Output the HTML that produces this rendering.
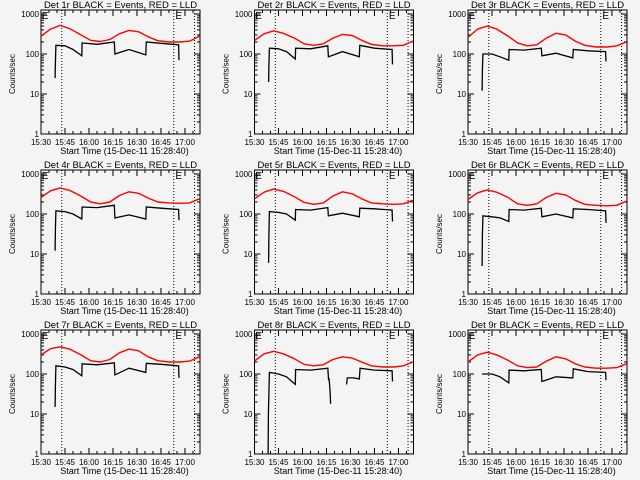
<!DOCTYPE html>
<html><head><meta charset="utf-8"><style>
html,body{margin:0;padding:0;background:#f4f4f4}
svg{display:block}
text{font-family:"Liberation Sans",sans-serif;fill:#000}
</style></head><body>
<svg id="c" width="640" height="480" viewBox="0 0 640 480" xmlns="http://www.w3.org/2000/svg"></svg>
<script>
const panelTitles=["Det 1r","Det 2r","Det 3r","Det 4r","Det 5r","Det 6r","Det 7r","Det 8r","Det 9r"];
const xTickLabels=["15:30","15:45","16:00","16:15","16:30","16:45","17:00"];
const xTickMinutes=[0,15,30,45,60,75,90];
const yTickValues=[1,10,100,1000];
const yTickLabels=["1","10","100","1000"];
const dottedMinutes=[13,83,96];
const eMarkMinutes=[0.5,84];
const redTimes=[0,6,12,18,25,31,37,43,49,55,61,67,73,80,87,93,99];
const redP1=[280,420,520,430,300,220,205,230,320,390,360,270,215,200,200,210,280];
const redP2=[220,320,380,330,250,180,165,180,250,310,290,220,175,160,160,165,210];
const redP3=[260,420,500,420,280,190,160,170,250,330,300,210,165,150,150,160,200];
const redP4=[260,380,450,390,280,200,180,200,290,360,330,250,200,190,185,190,240];
const redP5=[240,350,420,370,270,195,175,190,280,360,320,240,190,180,175,180,220];
const redP6=[230,340,400,350,260,180,165,180,260,330,300,220,175,165,160,165,210];
const redP7=[300,430,480,420,300,215,200,230,340,420,380,270,215,200,200,210,270];
const redP8=[210,320,370,320,240,175,160,170,230,270,250,200,160,150,150,160,200];
const redP9=[200,300,350,300,220,160,145,150,210,270,240,180,150,140,140,145,180];
const blackTimes=[8.8,9.0,9.3,15,20,25.5,25.7,35,45.8,46.2,55,65.5,65.8,75,86,86.3];
const blackP1=[25,60,165,160,130,90,190,175,200,100,130,95,200,185,170,70];
const blackP2=[20,50,140,135,115,75,140,135,160,85,115,85,165,140,130,55];
const blackP3=[12,40,100,100,85,70,130,125,140,90,105,80,130,120,115,65];
const blackP4=[12,40,120,115,100,75,150,145,165,80,95,75,150,140,130,70];
const blackP5=[6,30,115,110,100,70,130,125,145,90,105,85,140,135,125,65];
const blackP6=[5,30,90,85,80,65,130,125,140,85,100,80,135,130,120,60];
const blackP7=[15,50,160,150,130,90,180,170,190,95,140,110,185,175,160,80];
const blackP9=[100,100,100,100,85,60,125,120,130,65,85,80,135,115,110,70];
const blackTimesP8=[8.5,8.7,9.3,15,20,25.5,25.7,35,45.8,46.3,46.6,47.2,47.6,null,57.5,58,62,65.5,66,75,86,86.3];
const blackP8=[1,10,110,100,85,55,130,125,140,70,80,40,18,null,55,80,80,75,140,125,120,65];
const reds=[redP1,redP2,redP3,redP4,redP5,redP6,redP7,redP8,redP9];
const blacks=[blackP1,blackP2,blackP3,blackP4,blackP5,blackP6,blackP7,blackP8,blackP9];
const NS="http://www.w3.org/2000/svg";
const svg=document.getElementById('c');
function mk(tag,attrs,parent){const e=document.createElementNS(NS,tag);for(const k in attrs)e.setAttribute(k,attrs[k]);(parent||svg).appendChild(e);return e;}
const W=159,H=124,XMAX=99.4,YMIN=0,YMAX=Math.log10(1260);
for(let p=0;p<9;p++){
  const col=p%3,row=Math.floor(p/3);
  const L=41+col*213.5,T=10+row*160;
  const g=mk('g',{});
  
  
  const xs=m=>L+m/XMAX*W;
  const ys=v=>T+H-(Math.log10(v)-YMIN)/(YMAX-YMIN)*H;
  const t=mk('text',{x:L+W/2,y:T-2,'font-size':'9.5','text-anchor':'middle'},g);
  t.textContent=panelTitles[p]+" BLACK = Events, RED = LLD";
  
  
  const box=mk('rect',{x:L,y:T,width:W,height:H,fill:'none',stroke:'#000','stroke-width':'1'},g);
  
  
  for(let d=0;d<4;d++){
    for(let k=1;k<10;k++){
      const v=yTickValues[d]*k; if(v>1260) break;
      const y=ys(v),len=k===1?6:3;
      mk('line',{x1:L,x2:L+len,y1:y,y2:y,stroke:'#000'},g);
      mk('line',{x1:L+W,x2:L+W-len,y1:y,y2:y,stroke:'#000'},g);
    }
    const yl=mk('text',{x:L-2,y:ys(yTickValues[d])+3,'font-size':'8','text-anchor':'end'},g);
    yl.textContent=yTickLabels[d];
    
    
  }
  for(let i=0;i<xTickMinutes.length;i++){
    const x=xs(xTickMinutes[i]);
    mk('line',{x1:x,x2:x,y1:T+H,y2:T+H-6,stroke:'#000'},g);
    mk('line',{x1:x,x2:x,y1:T,y2:T+6,stroke:'#000'},g);
    const xl=mk('text',{x:x,y:T+H+11,'font-size':'8','text-anchor':'middle'},g);
    xl.textContent=xTickLabels[i];
    
    
  }
  for(let m=5;m<XMAX;m+=5){if(m%15){const x=xs(m);mk('line',{x1:x,x2:x,y1:T+H,y2:T+H-3,stroke:'#000'},g);mk('line',{x1:x,x2:x,y1:T,y2:T+3,stroke:'#000'},g);}}
  const xt=mk('text',{x:L+W/2+4,y:T+H+20,'font-size':'9','text-anchor':'middle'},g);
  xt.textContent="Start Time (15-Dec-11 15:28:40)";
  
  
  const yt=mk('text',{x:0,y:0,'font-size':'8','text-anchor':'middle',transform:`translate(${L-26},${T+H/2+2}) rotate(-90)`},g);
  yt.textContent="Counts/sec";
  
  
  dottedMinutes.forEach(m=>{const l=mk('line',{x1:xs(m),x2:xs(m),y1:T,y2:T+H,stroke:'#000','stroke-dasharray':'1,2'},g);
    
    });
  eMarkMinutes.forEach(m=>{const e=mk('text',{x:xs(m),y:T+9,'font-size':'10'},g);e.textContent="E";
    
    });
  const rp=redTimes.map((tm,i)=>xs(tm).toFixed(1)+','+ys(reds[p][i]).toFixed(1)).join(' ');
  const rl=mk('polyline',{points:rp,fill:'none',stroke:'#ff0000','stroke-width':'1.4','stroke-linejoin':'round'},g);
  
  
  const bt=p===7?blackTimesP8:blackTimes, bv=blacks[p];
  let d='',pen=false;
  for(let i=0;i<bt.length;i++){
    if(bt[i]===null||bv[i]===null){pen=false;continue;}
    d+=(pen?'L':'M')+xs(bt[i]).toFixed(1)+' '+ys(bv[i]).toFixed(1)+' ';pen=true;
  }
  const bl=mk('path',{d:d,fill:'none',stroke:'#000','stroke-width':'1.3'},g);
  
  
}
</script>
</body></html>
